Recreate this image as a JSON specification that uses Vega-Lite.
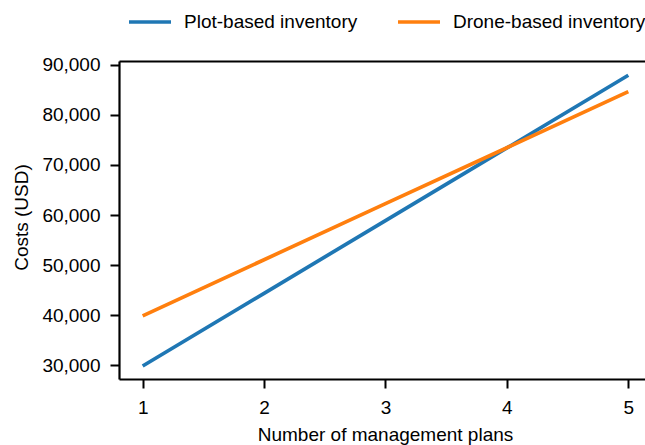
{
  "$schema": "https://vega.github.io/schema/vega-lite/v6.json",
  "width": 526,
  "height": 318,
  "autosize": {"type": "none"},
  "padding": {"left": 119, "top": 61, "right": 0, "bottom": 66},
  "background": "white",
  "config": {
    "view": {"stroke": null},
    "font": "Liberation Sans",
    "axis": {
      "labelFont": "Liberation Sans",
      "titleFont": "Liberation Sans",
      "labelFontSize": 19,
      "titleFontSize": 19,
      "titleFontWeight": "normal",
      "labelColor": "black",
      "titleColor": "black",
      "domainColor": "black",
      "domainWidth": 2.2,
      "tickColor": "black",
      "tickWidth": 2,
      "tickSize": 9,
      "grid": false
    }
  },
  "data": {
    "values": [
      {"plans": 1, "cost": 29900, "inventory": "Plot-based inventory"},
      {"plans": 2, "cost": 44400, "inventory": "Plot-based inventory"},
      {"plans": 3, "cost": 58900, "inventory": "Plot-based inventory"},
      {"plans": 4, "cost": 73400, "inventory": "Plot-based inventory"},
      {"plans": 5, "cost": 87900, "inventory": "Plot-based inventory"},
      {"plans": 1, "cost": 39900, "inventory": "Drone-based inventory"},
      {"plans": 2, "cost": 51100, "inventory": "Drone-based inventory"},
      {"plans": 3, "cost": 62300, "inventory": "Drone-based inventory"},
      {"plans": 4, "cost": 73450, "inventory": "Drone-based inventory"},
      {"plans": 5, "cost": 84650, "inventory": "Drone-based inventory"}
    ]
  },
  "layer": [
    {
      "mark": {"type": "line", "strokeWidth": 3.7, "clip": true},
      "encoding": {
        "x": {
          "field": "plans", "type": "quantitative",
          "scale": {"domain": [0.805, 5.1375], "nice": false, "zero": false},
          "axis": {"values": [1, 2, 3, 4, 5], "labelExpr": "format(datum.value, 'd')", "labelFontSize": 19, "labelPadding": 10, "title": "Number of management plans", "titleX": 266, "titleY": 61, "titleBaseline": "alphabetic"}
        },
        "y": {
          "field": "cost", "type": "quantitative",
          "scale": {"domain": [27300, 90750], "nice": false, "zero": false},
          "axis": {"values": [30000, 40000, 50000, 60000, 70000, 80000, 90000], "labelExpr": "format(datum.value, ',')", "labelFontSize": 19, "labelPadding": 10, "title": "Costs (USD)", "titleX": -92, "titleY": 156, "titleBaseline": "alphabetic", "titleAngle": -90}
        },
        "color": {
          "field": "inventory", "type": "nominal",
          "scale": {"domain": ["Plot-based inventory", "Drone-based inventory"], "range": ["#1f77b4", "#ff7f0e"]},
          "sort": ["Plot-based inventory", "Drone-based inventory"],
          "legend": {
            "title": null,
            "orient": "none",
            "direction": "horizontal",
            "legendX": 8,
            "legendY": -62,
            "symbolType": "stroke",
            "symbolSize": 1764,
            "symbolStrokeWidth": 3.7,
            "labelFont": "Liberation Sans",
            "labelFontSize": 19,
            "labelLimit": 400,
            "labelColor": "black",
            "labelOffset": 11,
            "columnPadding": 32
          }
        }
      }
    },
    {
      "mark": {"type": "rule", "strokeOpacity": 0},
      "encoding": {
        "x": {
          "field": "plans", "type": "quantitative",
          "axis": {"orient": "top", "labels": false, "ticks": false, "title": null}
        }
      }
    }
  ],
  "resolve": {"axis": {"x": "independent"}}
}
